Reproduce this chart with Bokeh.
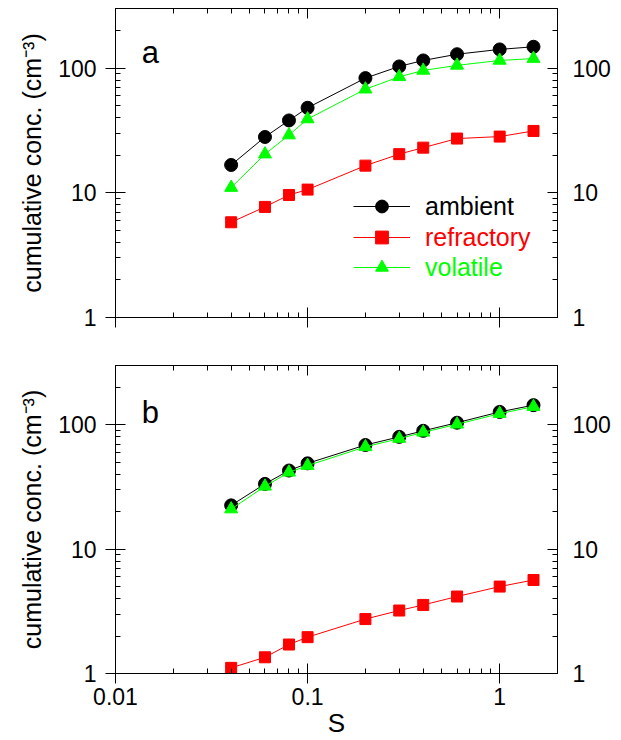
from bokeh.plotting import figure
from bokeh.layouts import column
from bokeh.models import (LogAxis, FixedTicker, Legend, LegendItem, Label, Range1d,
                          BasicTickFormatter)
from bokeh.embed import file_html
from bokeh.resources import INLINE

# Supersaturation values (%) at which the cumulative concentrations were measured
s_values = [0.04, 0.06, 0.08, 0.1, 0.2, 0.3, 0.4, 0.6, 1.0, 1.5]

# Panel a
ambient_a = [16.7, 28, 38, 48, 83, 103, 115, 129, 141, 148]
refractory_a = [5.8, 7.7, 9.6, 10.6, 16.5, 20.4, 23, 27.2, 28.2, 31.3]
volatile_a = [11, 20.4, 29, 39, 67.6, 85, 95.6, 105, 115, 119]

# Panel b
ambient_b = [22.5, 33.5, 42.9, 49, 68.8, 80, 89.5, 104, 127, 144]
refractory_b = [1.11, 1.35, 1.71, 1.96, 2.74, 3.21, 3.56, 4.16, 5.0, 5.65]
volatile_b = [21, 32, 41.5, 47, 66.5, 77.5, 87, 101, 123, 140]

series_names = ["ambient", "refractory", "volatile"]
series_colors = ["#000000", "#ff0000", "#00ff00"]
series_markers = ["circle", "square", "triangle"]
series_sizes = [13, 11, 13]

x_ticks = [0.01, 0.1, 1]
x_tick_labels = ["0.01", "0.1", "1"]
y_ticks = [1, 10, 100]
y_tick_labels = ["1", "10", "100"]

X_RANGE = (0.01, 2)
Y_RANGE = (1, 300)

FONT = "Liberation Sans"
TICK_PX = "23px"


def minor_ticks(majors, upper):
    out = []
    for m in majors:
        for k in range(2, 10):
            v = m * k
            if v <= upper:
                out.append(v)
    return out


x_minor = minor_ticks(x_ticks, X_RANGE[1])
y_minor = minor_ticks(y_ticks, Y_RANGE[1])


def style_axis(ax, ticks, minors, labels, show_labels, outward):
    ax.ticker = FixedTicker(ticks=ticks, minor_ticks=minors)
    ax.formatter = BasicTickFormatter()
    ax.major_label_overrides = {t: l for t, l in zip(ticks, labels)}
    ax.axis_line_color = "black"
    ax.axis_line_width = 1
    ax.major_tick_line_color = "black"
    ax.minor_tick_line_color = "black"
    ax.major_tick_in = 10
    ax.major_tick_out = 10 if outward else 0
    ax.minor_tick_in = 5
    ax.minor_tick_out = 0
    ax.major_label_text_font = FONT
    if show_labels:
        ax.major_label_text_font_size = TICK_PX
        ax.major_label_text_color = "black"
    else:
        # tick marks only: labels are not drawn at all
        ax.major_label_text_font_size = "1px"
        ax.major_label_text_color = None
        ax.major_label_standoff = 0
    ax.axis_label_text_font = FONT
    ax.axis_label_text_font_style = "normal"
    ax.axis_label_text_color = "black"


def make_panel(letter, letter_y, amb, ref, vol, height, top, bottom, x_labels, with_legend):
    p = figure(width=621, height=height, x_axis_type="log", y_axis_type="log",
               x_range=Range1d(*X_RANGE), y_range=Range1d(*Y_RANGE),
               output_backend="svg", toolbar_location=None,
               min_border_left=115, min_border_right=64,
               min_border_top=top, min_border_bottom=bottom)
    p.xgrid.visible = False
    p.ygrid.visible = False
    p.outline_line_color = "black"
    p.background_fill_color = "white"
    p.border_fill_color = "white"

    left = p.yaxis[0]
    style_axis(left, y_ticks, y_minor, y_tick_labels, True, True)
    left.major_label_standoff = 9
    left.axis_label = "cumulative conc. (cm\u207b\u00b3)"
    left.axis_label_text_font_size = "25px"
    left.axis_label_standoff = 9

    bottom_ax = p.xaxis[0]
    style_axis(bottom_ax, x_ticks, x_minor, x_tick_labels, x_labels, True)
    if x_labels:
        bottom_ax.major_label_standoff = 4
        bottom_ax.axis_label = "S"
        bottom_ax.axis_label_text_font_size = "26px"
        bottom_ax.axis_label_standoff = 0

    right = LogAxis()
    style_axis(right, y_ticks, y_minor, y_tick_labels, True, False)
    right.major_label_standoff = 15
    p.add_layout(right, "right")

    above = LogAxis()
    style_axis(above, x_ticks, x_minor, x_tick_labels, False, False)
    p.add_layout(above, "above")

    renderers = []
    for ys, color, marker, size in zip([amb, ref, vol], series_colors, series_markers, series_sizes):
        ln = p.line(s_values, ys, line_color=color, line_width=1)
        sc = p.scatter(s_values, ys, marker=marker, size=size,
                       fill_color=color, line_color=color)
        renderers.append([ln, sc])

    if with_legend:
        legend_bottoms = [95, 64, 34]
        for name, color, rs, yb in zip(series_names, series_colors, renderers, legend_bottoms):
            leg = Legend(items=[LegendItem(label=name, renderers=rs)],
                         location=(238, yb), orientation="vertical",
                         padding=0, margin=0, spacing=0,
                         glyph_width=57, glyph_height=32, label_height=32,
                         label_standoff=15,
                         label_text_font=FONT, label_text_font_size="25px",
                         label_text_color=color,
                         border_line_color=None, background_fill_alpha=0)
            p.add_layout(leg)

    p.add_layout(Label(x=0.0137, y=letter_y, text=letter, text_font=FONT,
                       text_font_size="31px", text_color="black",
                       text_baseline="alphabetic", text_align="left"))
    return p


panel_a = make_panel("a", 134, ambient_a, refractory_a, volatile_a,
                     height=340, top=8, bottom=23, x_labels=False, with_legend=True)
panel_b = make_panel("b", 125, ambient_b, refractory_b, volatile_b,
                     height=400, top=25, bottom=66, x_labels=True, with_legend=False)

layout = column(panel_a, panel_b, spacing=0)

with open("out.html", "w") as f:
    f.write(file_html(layout, INLINE))
